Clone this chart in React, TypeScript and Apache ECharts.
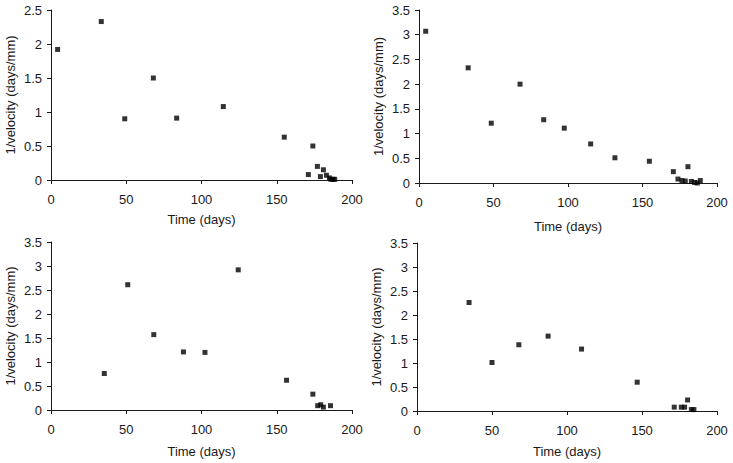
import React, { useEffect, useRef } from "react";
import * as echarts from "echarts";

// Time (days) and 1/velocity (days/mm) for each monitoring record
const daysA = [4.4, 33.4, 49, 68, 83.5, 114.5, 155, 171, 174, 177, 179, 181, 183, 185, 186, 187.5, 188.5];
const invVelA = [1.92, 2.33, 0.9, 1.5, 0.91, 1.08, 0.63, 0.08, 0.5, 0.2, 0.05, 0.15, 0.07, 0.03, 0.01, 0.01, 0.01];

const daysB = [4.5, 33, 48.5, 67.8, 83.7, 97.5, 115.2, 131.5, 154.6, 170.7, 173.8, 176.5, 178.7, 180.5, 182.8, 185, 186.8, 188.8];
const invVelB = [3.07, 2.33, 1.21, 2.0, 1.28, 1.11, 0.79, 0.51, 0.44, 0.23, 0.08, 0.05, 0.04, 0.33, 0.03, 0.01, 0.0, 0.05];

const daysC = [35.4, 51, 68.3, 88, 102.3, 124.4, 156.5, 174, 177.2, 179.2, 181, 185.7];
const invVelC = [0.76, 2.61, 1.57, 1.21, 1.2, 2.92, 0.62, 0.33, 0.09, 0.11, 0.06, 0.09];

const daysD = [34.7, 50, 67.9, 87.4, 109.7, 146.8, 171.5, 176.2, 178.4, 180.4, 182.9, 184.6];
const invVelD = [2.26, 1.01, 1.38, 1.56, 1.29, 0.6, 0.08, 0.08, 0.08, 0.23, 0.03, 0.03];

const panels = [
  { days: daysA, values: invVelA, yMax: 2.5 },
  { days: daysB, values: invVelB, yMax: 3.5 },
  { days: daysC, values: invVelC, yMax: 3.5 },
  { days: daysD, values: invVelD, yMax: 3.5 },
];

const xAxisTitle = "Time (days)";
const yAxisTitle = "1/velocity (days/mm)";

const FONT = "'Liberation Sans', Arial, sans-serif";
const INK = "#1a1a1a";

const grids = [
  { left: 51, top: 10, width: 301, height: 170 },
  { left: 419, top: 10, width: 298, height: 173 },
  { left: 51, top: 242, width: 301, height: 168 },
  { left: 417, top: 243, width: 300, height: 168 },
];
const xNameGaps = [33, 37, 35, 34];

export default function App() {
  const ref = useRef<HTMLDivElement>(null);

  useEffect(() => {
    if (!ref.current) return;
    const chart = echarts.init(ref.current, undefined, { renderer: "svg" });

    const axisLine = { show: true, lineStyle: { color: INK, width: 1 } };
    const axisTick = { show: true, length: 4, lineStyle: { color: INK, width: 1 } };

    chart.setOption({
      animation: false,
      backgroundColor: "#ffffff",
      grid: grids.map((g) => ({ ...g, containLabel: false })),
      xAxis: panels.map((_, i) => ({
        type: "value",
        gridIndex: i,
        min: 0,
        max: 200,
        interval: 50,
        name: xAxisTitle,
        nameLocation: "middle",
        nameGap: xNameGaps[i],
        nameTextStyle: { fontFamily: FONT, fontSize: 13, color: INK },
        axisLine,
        axisTick,
        splitLine: { show: false },
        axisLabel: { fontFamily: FONT, fontSize: 13, color: INK, margin: 13 },
      })),
      yAxis: panels.map((p, i) => ({
        type: "value",
        gridIndex: i,
        min: 0,
        max: p.yMax,
        interval: 0.5,
        name: yAxisTitle,
        nameLocation: "middle",
        nameGap: 34,
        nameTextStyle: { fontFamily: FONT, fontSize: 13, color: INK },
        axisLine,
        axisTick,
        splitLine: { show: false },
        axisLabel: { fontFamily: FONT, fontSize: 13, color: INK, margin: 9 },
      })),
      series: panels.map((p, i) => ({
        type: "scatter",
        xAxisIndex: i,
        yAxisIndex: i,
        symbol: "rect",
        symbolSize: 5,
        itemStyle: { color: "#000000" },
        data: p.days.map((d, k) => [d, p.values[k]]),
      })),
    });

    return () => chart.dispose();
  }, []);

  return (
    <div
      ref={ref}
      style={{ position: "fixed", left: 0, top: 0, width: 733, height: 463 }}
    />
  );
}
